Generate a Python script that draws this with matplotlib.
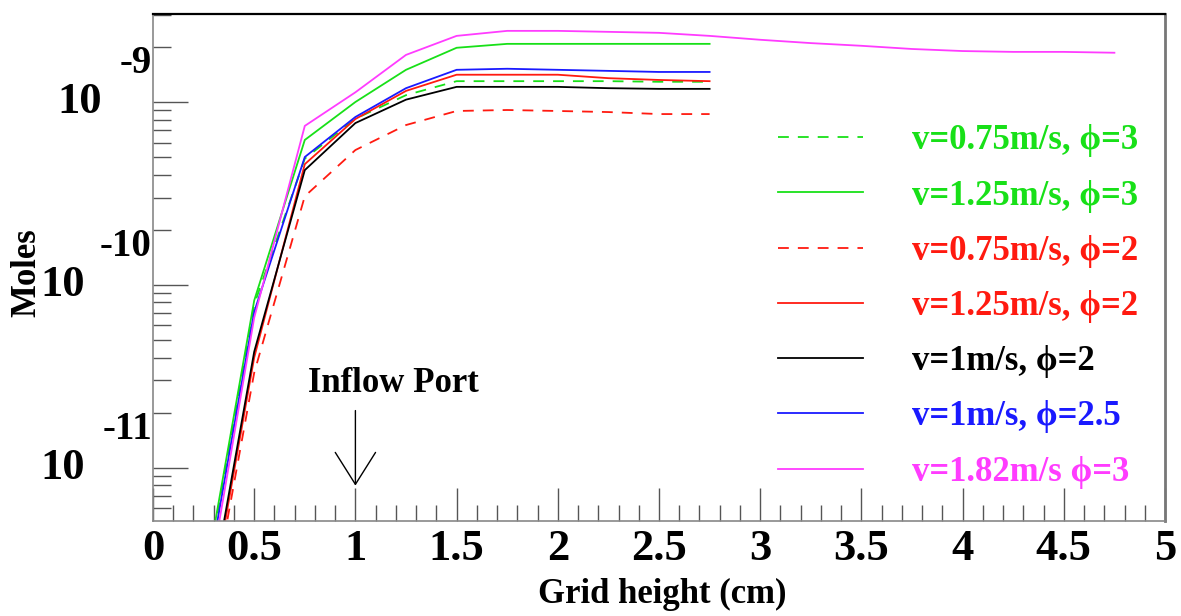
import matplotlib
matplotlib.use("Agg")
import matplotlib.pyplot as plt
from matplotlib.ticker import MultipleLocator, LogLocator, NullFormatter
from matplotlib.patches import FancyArrowPatch
from matplotlib.transforms import offset_copy

# grid heights (cm)
x_short = [0.25, 0.5, 0.75, 1.0, 1.25, 1.5, 1.75, 2.0, 2.25, 2.5, 2.75]
x_long = [0.25, 0.5, 0.75, 1.0, 1.25, 1.5, 1.75, 2.0, 2.25, 2.5, 2.75,
          3.0, 3.25, 3.5, 3.75, 4.0, 4.25, 4.5, 4.75]

# moles
g_075 = [2.1e-12, 7.8e-11, 4.9e-10, 8.1e-10, 1.09e-9, 1.30e-9, 1.30e-9,
         1.30e-9, 1.30e-9, 1.29e-9, 1.29e-9]
g_125 = [2.2e-12, 8.2e-11, 6.2e-10, 1.0e-9, 1.50e-9, 1.98e-9, 2.08e-9,
         2.08e-9, 2.08e-9, 2.08e-9, 2.08e-9]
r_075 = [1.0e-12, 3.3e-11, 3.05e-10, 5.46e-10, 7.48e-10, 8.93e-10, 9.04e-10,
         8.93e-10, 8.81e-10, 8.59e-10, 8.59e-10]
r_125 = [1.1e-12, 4.0e-11, 4.57e-10, 8.07e-10, 1.15e-9, 1.41e-9, 1.41e-9,
         1.41e-9, 1.35e-9, 1.32e-9, 1.30e-9]
k_100 = [1.2e-12, 4.3e-11, 4.24e-10, 7.67e-10, 1.03e-9, 1.21e-9, 1.21e-9,
         1.21e-9, 1.19e-9, 1.18e-9, 1.18e-9]
b_100 = [1.9e-12, 7.1e-11, 5.0e-10, 8.28e-10, 1.19e-9, 1.50e-9, 1.52e-9,
         1.50e-9, 1.48e-9, 1.46e-9, 1.46e-9]
m_182 = [1.6e-12, 6.6e-11, 7.4e-10, 1.13e-9, 1.81e-9, 2.30e-9, 2.45e-9,
         2.45e-9, 2.42e-9, 2.39e-9, 2.30e-9, 2.19e-9, 2.10e-9, 2.03e-9,
         1.95e-9, 1.90e-9, 1.88e-9, 1.88e-9, 1.86e-9]

labels = ["v=0.75m/s, \u03d5=3", "v=1.25m/s, \u03d5=3", "v=0.75m/s, \u03d5=2",
          "v=1.25m/s, \u03d5=2", "v=1m/s, \u03d5=2", "v=1m/s, \u03d5=2.5",
          "v=1.82m/s \u03d5=3"]
xtick_vals = [0, 0.5, 1, 1.5, 2, 2.5, 3, 3.5, 4, 4.5, 5]
xtick_labels = ["0", "0.5", "1", "1.5", "2", "2.5", "3", "3.5", "4", "4.5", "5"]
ydecades = [1e-9, 1e-10, 1e-11]
yexp = ["-9", "-10", "-11"]

green = "#18e018"
red = "#ff1a10"
blue = "#1a1aff"
magenta = "#ff3cff"
serif = ["Liberation Serif", "DejaVu Serif"]

fig = plt.figure(figsize=(11.81, 6.16), dpi=100)
ax = fig.add_axes([153 / 1181, 1 - 521 / 616, 1012 / 1181, 507 / 616])

dash = (0, (6, 5))
lw = 1.3
ax.plot(x_short, g_075, color=green, lw=lw, ls=dash, label=labels[0])
ax.plot(x_short, g_125, color=green, lw=lw, label=labels[1])
ax.plot(x_short, r_075, color=red, lw=lw, ls=dash, label=labels[2])
ax.plot(x_short, r_125, color=red, lw=lw, label=labels[3])
ax.plot(x_short, k_100, color="black", lw=lw, label=labels[4])
ax.plot(x_short, b_100, color=blue, lw=lw, label=labels[5])
ax.plot(x_long, m_182, color=magenta, lw=lw, label=labels[6])

ax.set_yscale("log")
ax.set_xlim(0, 5)
ax.set_ylim(5.1e-12, 3.03e-9)

# ROOT style ticks
ax.xaxis.set_minor_locator(MultipleLocator(0.1))
ax.set_xticks(xtick_vals)
ax.set_xticklabels(xtick_labels, family=serif, fontweight="bold", fontsize=32)
ax.yaxis.set_major_locator(LogLocator(base=10, numticks=10))
ax.yaxis.set_minor_locator(LogLocator(base=10, subs=range(2, 10), numticks=20))
ax.yaxis.set_major_formatter(NullFormatter())
ax.yaxis.set_minor_formatter(NullFormatter())
ax.tick_params(axis="x", which="major", direction="in", length=24, width=1.0,
               color="#555555", pad=6, top=False)
ax.tick_params(axis="x", which="minor", direction="in", length=11.5, width=1.0,
               color="#555555", top=False)
ax.tick_params(axis="y", which="major", direction="in", length=25, width=1.0,
               color="#555555", right=False)
ax.tick_params(axis="y", which="minor", direction="in", length=13, width=1.0,
               color="#555555", right=False)

# y labels drawn ROOT-like: "10" with the exponent above it
ytrans = ax.get_yaxis_transform()
exp_trans = offset_copy(ytrans, fig=fig, x=0, y=27.5, units="points")
for val, e in zip(ydecades, yexp):
    base_x = -0.0504 if len(e) == 2 else -0.067
    ax.text(base_x, val, "10", transform=ytrans, ha="right", va="center",
            family=serif, fontweight="bold", fontsize=32)
    ax.text(-0.001, val, e, transform=exp_trans, ha="right", va="center",
            family=serif, fontweight="bold", fontsize=28)

for side in ["left", "bottom"]:
    ax.spines[side].set_color("#888888")
    ax.spines[side].set_linewidth(1.2)
ax.spines["top"].set_color("black")
ax.spines["top"].set_linewidth(1.6)
ax.spines["right"].set_color("#777777")
ax.spines["right"].set_linewidth(2.0)

ax.set_xlabel("Grid height (cm)", family=serif, fontweight="bold", fontsize=25)
ax.xaxis.set_label_coords(0.503, -0.113)
ax.set_ylabel("Moles", family=serif, fontweight="bold", fontsize=25)
ax.yaxis.set_label_coords(-0.108, 0.49)

# inflow port marker
ax.text(1.186, 2.88e-11, "Inflow Port", ha="center", va="center",
        family=serif, fontweight="bold", fontsize=25)
arrow = FancyArrowPatch((1.0, 2.05e-11), (1.0, 7.96e-12),
                        arrowstyle="->,head_length=2.3,head_width=1.45",
                        mutation_scale=10, lw=1.0, color="black",
                        shrinkA=0, shrinkB=0)
ax.add_patch(arrow)

leg = ax.legend(loc="center left", bbox_to_anchor=(0.6176, 0.423),
                frameon=False, labelcolor="linecolor", handlelength=2.45,
                handletextpad=1.4, labelspacing=0.64, borderpad=0,
                borderaxespad=0,
                prop={"family": serif, "weight": "bold", "size": 25})

fig.savefig("out.png", dpi=100)
